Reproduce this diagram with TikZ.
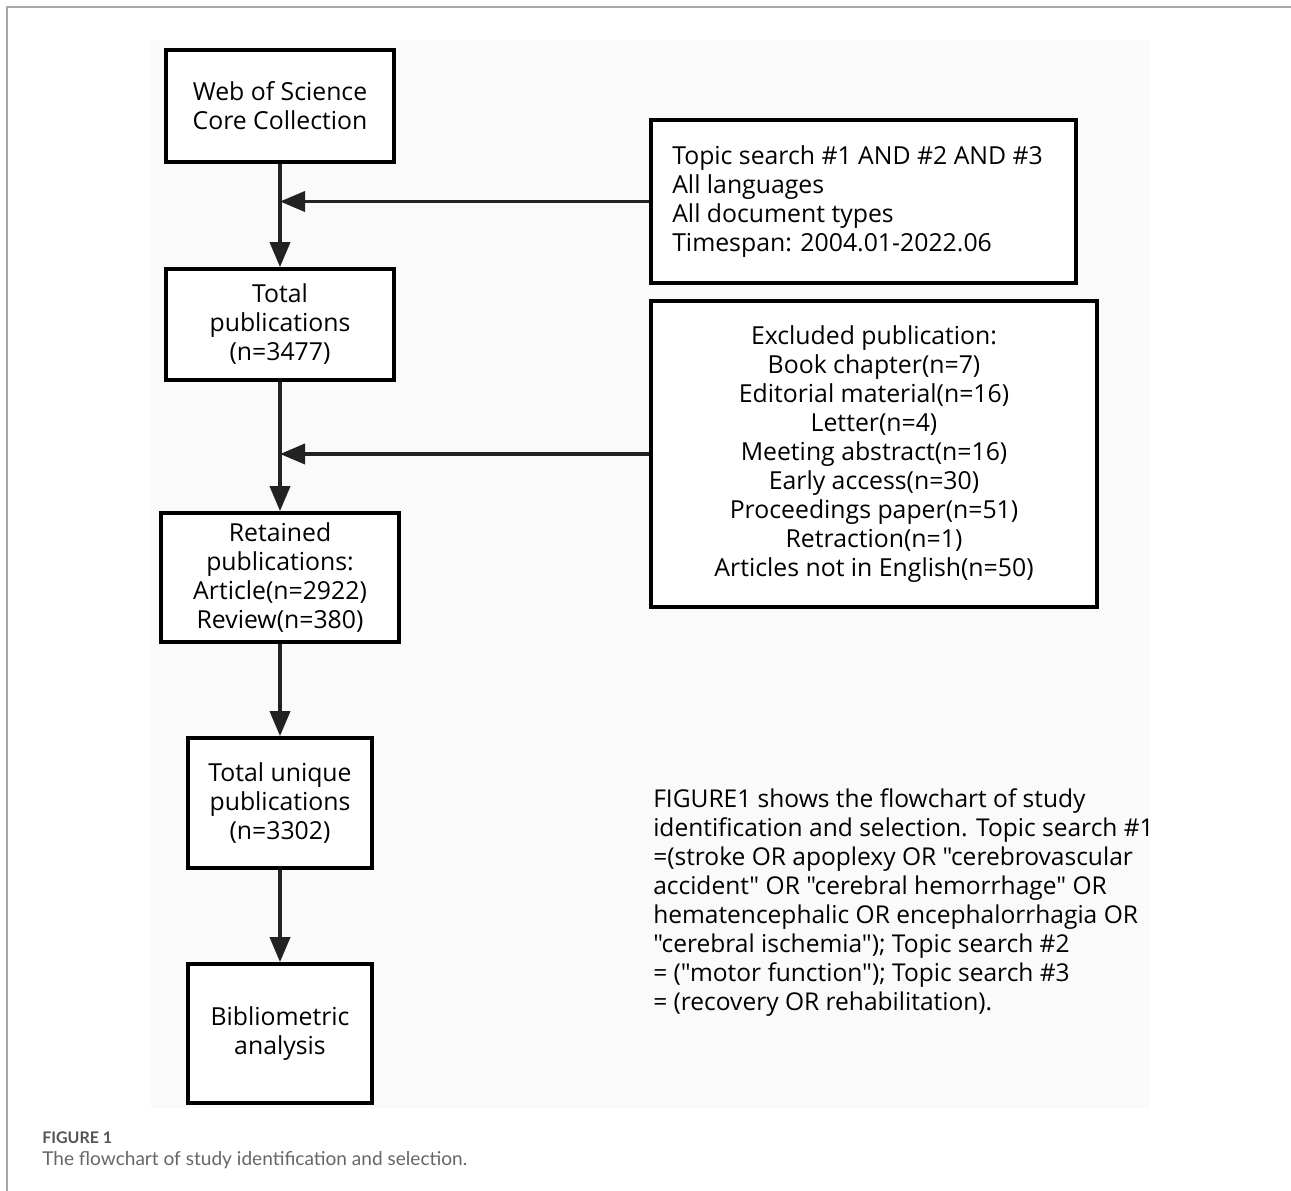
\documentclass[tikz,border=0pt]{standalone}
\usepackage{fontspec}
\setmainfont{Open Sans}[Ligatures=TeXOff]
\newfontfamily\capfont{Lato}
\usetikzlibrary{arrows.meta}
\newcommand\pxl{0.75pt}
\newcommand\qq{\symbol{34}}
\definecolor{bgpanel}{HTML}{FAFAFA}
\definecolor{framegray}{HTML}{A8A8A8}
\definecolor{linecol}{HTML}{222222}
\definecolor{capgray}{HTML}{666666}
\definecolor{figgray}{HTML}{555555}
\begin{document}
\begin{tikzpicture}[x=0.75pt,y=-0.75pt,
  boxstyle/.style={draw=black, line width=2.8pt, fill=white, inner sep=0pt, align=center,
    font=\fontsize{18.6}{21.75}\selectfont},
  flowarrow/.style={draw=linecol, line width=2.8pt,
    -{Triangle[length=25*\pxl, width=20*\pxl, fill=linecol]}},
  bodytext/.style={inner sep=0pt, align=left, font=\fontsize{18.4}{21.75}\selectfont}
]
\useasboundingbox (0,0) rectangle (1291,1191);
% outer frame
\draw[framegray, line width=1.4pt] (7,1191) -- (7,7) -- (1291,7);
% panel background
\fill[bgpanel] (151,40) rectangle (1150,1108);

% left column
\node[boxstyle, minimum width=228*\pxl, minimum height=112*\pxl] (wos) at (280,106)
  {Web of Science\\Core Collection};
\node[boxstyle, minimum width=228*\pxl, minimum height=111*\pxl] (total) at (280,324.5)
  {Total\\publications\\(n=3477)};
\node[boxstyle, minimum width=238*\pxl, minimum height=129*\pxl] (retained) at (280,577.5)
  {Retained\\publications:\\Article(n=2922)\\Review(n=380)};
\node[boxstyle, minimum width=184*\pxl, minimum height=130*\pxl] (unique) at (280,803)
  {Total unique\\publications\\(n=3302)};
\node[boxstyle, minimum width=184*\pxl, minimum height=139*\pxl] (biblio) at (280,1033.5)
  {Bibliometric\\analysis};

% right column
\node[boxstyle, minimum width=425*\pxl, minimum height=163*\pxl] (topic) at (863.5,201.5) {};
\node[bodytext, anchor=west, font=\fontsize{18.6}{21.75}\selectfont] (topictext) at (672,201.5)
  {Topic search \#1 AND \#2 AND \#3\\All languages\\All document types\\Timespan: 2004.01-2022.06};
\node[boxstyle, minimum width=446*\pxl, minimum height=306*\pxl] (excl) at (874,454)
  {Excluded publication:\\Book chapter(n=7)\\Editorial material(n=16)\\Letter(n=4)\\Meeting abstract(n=16)\\Early access(n=30)\\Proceedings paper(n=51)\\Retraction(n=1)\\Articles not in English(n=50)};

% junctions
\coordinate (j1) at (280,201.5);
\coordinate (j2) at (280,454);

% connectors
\draw[flowarrow] (wos.south) -- (total.north);
\draw[flowarrow] (total.south) -- (retained.north);
\draw[flowarrow] (retained.south) -- (unique.north);
\draw[flowarrow] (unique.south) -- (biblio.north);
\draw[flowarrow] (topic.west) -- (j1);
\draw[flowarrow] (excl.west) -- (j2);

% note
\node[bodytext, anchor=west] (note) at (653,903)
  {FIGURE1 shows the flowchart of study\\
   identification and selection. Topic search \#1\\
   =(stroke OR apoplexy OR \qq cerebrovascular\\
   accident\qq{} OR \qq cerebral hemorrhage\qq{} OR\\
   hematencephalic OR encephalorrhagia OR\\
   \qq cerebral ischemia\qq); Topic search \#2\\
   = (\qq motor function\qq); Topic search \#3\\
   = (recovery OR rehabilitation).};

% caption
\node[anchor=base west, inner sep=0pt, text=figgray, font=\capfont\bfseries\fontsize{12}{13}\selectfont] (figlabel) at (42,1143) {FIGURE 1};
\node[anchor=base west, inner sep=0pt, text=capgray, font=\capfont\fontsize{14.3}{17}\selectfont] (caption) at (42,1165) {The flowchart of study identification and selection.};
\end{tikzpicture}
\end{document}
